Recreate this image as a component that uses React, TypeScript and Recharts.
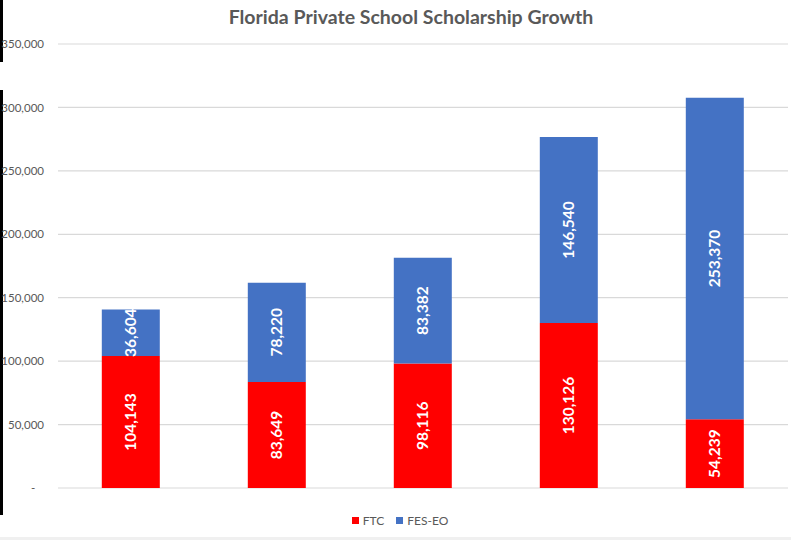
import { BarChart, Bar, XAxis, YAxis, CartesianGrid, Legend, LabelList } from 'recharts';

// Scholarship counts by year (x labels are not shown in the source chart)
const categories = ['Year 1', 'Year 2', 'Year 3', 'Year 4', 'Year 5'];
const ftc = [104143, 83649, 98116, 130126, 54239];
const fesEo = [36604, 78220, 83382, 146540, 253370];
const yTicks = [0, 50000, 100000, 150000, 200000, 250000, 300000, 350000];
const seriesNames = ['FTC', 'FES-EO'];
const seriesColors = ['#ff0000', '#4472c4'];

const data = categories.map((name, i) => ({ name, ftc: ftc[i], fesEo: fesEo[i] }));

const FONT = 'Lato, "Open Sans", sans-serif';

const fmtTick = (v: number) => (v === 0 ? '-\u00a0\u00a0\u00a0' : v.toLocaleString('en-US'));
const fmtLabel = (v: any) => Number(v).toLocaleString('en-US');

const LegendContent = () => (
  <div
    style={{
      display: 'flex',
      justifyContent: 'center',
      gap: 12,
      paddingLeft: 12,
      fontSize: 12,
      color: '#595959',
      fontFamily: FONT,
    }}
  >
    {seriesNames.map((n, i) => (
      <span key={n} style={{ display: 'flex', alignItems: 'center' }}>
        <span style={{ width: 7, height: 7, background: seriesColors[i], marginRight: 4, display: 'inline-block' }} />
        {n}
      </span>
    ))}
  </div>
);

export default function App() {
  return (
    <div style={{ position: 'absolute', left: 0, top: 0, width: 791, height: 540, background: '#fff', fontFamily: FONT }}>
      {/* left edge artifacts of the screenshot */}
      <div style={{ position: 'absolute', left: 0, top: 0, width: 3, height: 62, background: '#000' }} />
      <div style={{ position: 'absolute', left: 0, top: 90, width: 3, height: 425, background: '#000' }} />
      <div style={{ position: 'absolute', left: 0, top: 537, width: 791, height: 3, background: '#f0f0f0' }} />
      <div
        style={{
          position: 'absolute',
          left: 0,
          top: 5,
          width: 822,
          textAlign: 'center',
          fontSize: 19.5,
          fontWeight: 700,
          color: '#595959',
        }}
      >
        Florida Private School Scholarship Growth
      </div>
      <BarChart
        width={791}
        height={540}
        data={data}
        margin={{ top: 44, right: 3, left: 0, bottom: 36 }}
        barCategoryGap="30%"
      >
        <CartesianGrid vertical={false} stroke="#d9d9d9" strokeWidth={1.2} />
        <XAxis dataKey="name" tick={false} axisLine={false} tickLine={false} height={0} />
        <YAxis
          width={58}
          domain={[0, 350000]}
          ticks={yTicks}
          tickFormatter={fmtTick}
          axisLine={false}
          tickLine={false}
          tickMargin={8}
          tick={{ fontSize: 11.5, fill: '#595959', fontFamily: FONT }}
        />
        <Legend
          verticalAlign="bottom"
          height={16}
          content={<LegendContent />}
          wrapperStyle={{ bottom: 11 }}
        />
        <Bar dataKey="ftc" name="FTC" stackId="a" fill={seriesColors[0]} isAnimationActive={false}>
          <LabelList
            dataKey="ftc"
            position="center"
            angle={-90}
            formatter={fmtLabel}
            style={{ fill: '#fff', fontSize: 15.5, fontWeight: 700, fontFamily: FONT }}
          />
        </Bar>
        <Bar dataKey="fesEo" name="FES-EO" stackId="a" fill={seriesColors[1]} isAnimationActive={false}>
          <LabelList
            dataKey="fesEo"
            position="center"
            angle={-90}
            formatter={fmtLabel}
            style={{ fill: '#fff', fontSize: 15.5, fontWeight: 700, fontFamily: FONT }}
          />
        </Bar>
      </BarChart>
    </div>
  );
}
